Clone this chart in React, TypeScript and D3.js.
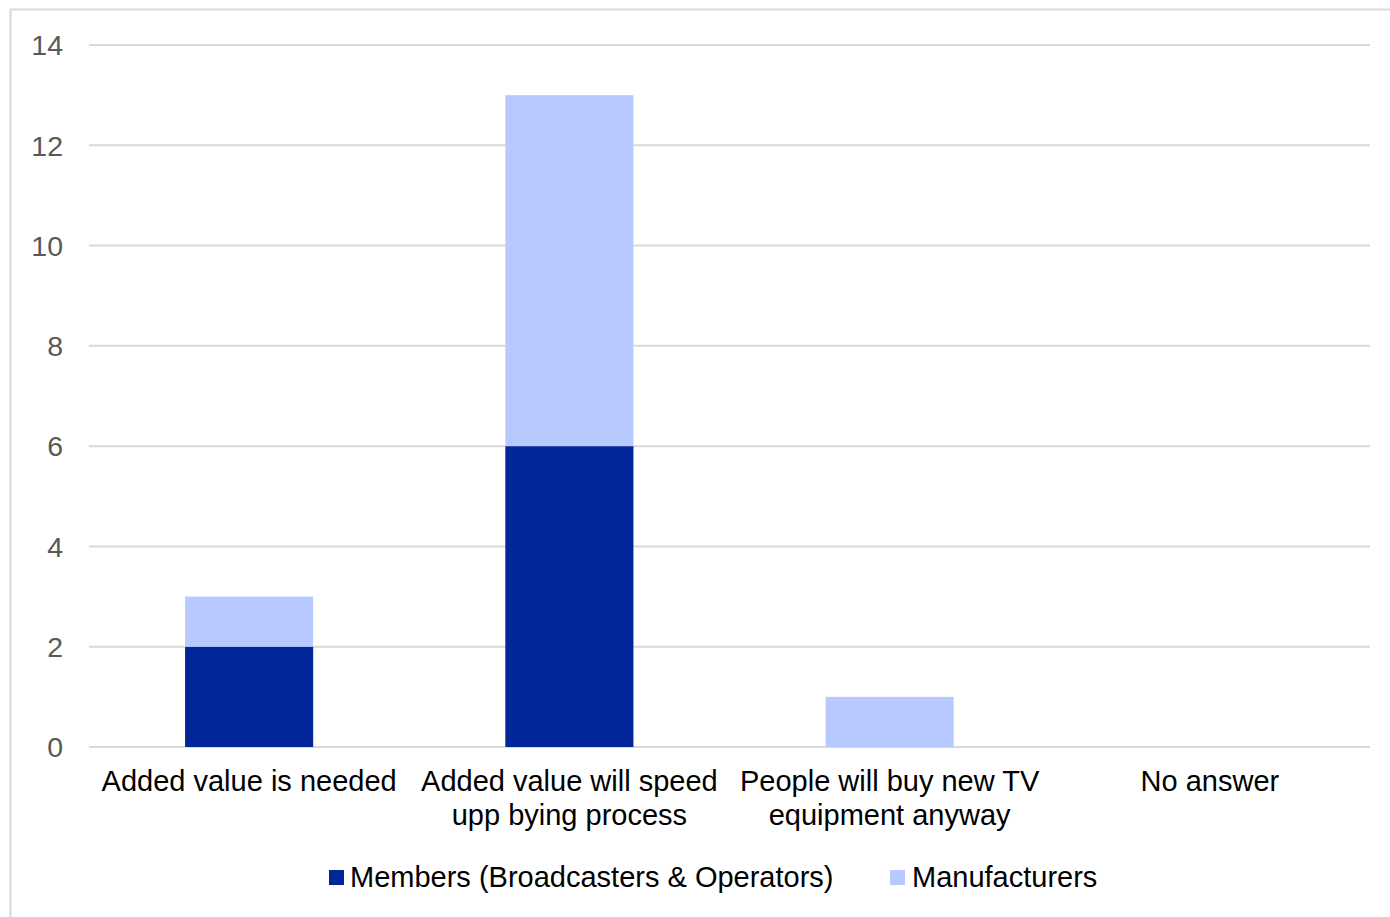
import React, { useEffect, useRef } from "react";
import * as d3 from "d3";

const categories = [
  ["Added value is needed"],
  ["Added value will speed", "upp bying process"],
  ["People will buy new TV", "equipment anyway"],
  ["No answer"],
];
const members = [2, 6, 0, 0];
const manufacturers = [1, 7, 1, 0];
const seriesNames = ["Members (Broadcasters & Operators)", "Manufacturers"];
const seriesColors = ["#002699", "#b8c9ff"];
const yTicks = [0, 2, 4, 6, 8, 10, 12, 14];

const W = 1390;
const H = 917;
const FONT = "'Liberation Sans', Arial, sans-serif";

export default function App() {
  const ref = useRef<SVGSVGElement>(null);
  useEffect(() => {
    const svg = d3.select(ref.current);
    svg.selectAll("*").remove();
    const left = 89, right = 1370, top = 45, bottom = 747;
    const x = d3.scaleBand<number>().domain(d3.range(categories.length)).range([left, right]).paddingInner(0.6).paddingOuter(0.3);
    const y = d3.scaleLinear().domain([0, 14]).range([bottom, top]);

    svg.append("rect").attr("x", 10.5).attr("y", 9.5).attr("width", W + 20).attr("height", H + 20)
      .attr("fill", "#fff").attr("stroke", "#d9d9d9").attr("stroke-width", 2);

    const g = svg.append("g");
    g.selectAll("line.grid").data(yTicks).enter().append("line")
      .attr("x1", left).attr("x2", right)
      .attr("y1", (d) => y(d)).attr("y2", (d) => y(d))
      .attr("stroke", "#d9d9d9").attr("stroke-width", 2);

    g.selectAll("text.tick").data(yTicks).enter().append("text")
      .attr("x", 63).attr("y", (d) => y(d)).attr("dy", "0.36em")
      .attr("text-anchor", "end").attr("font-family", FONT).attr("font-size", 28.5)
      .attr("fill", "#595959").text((d) => String(d));

    const stack = d3.stack<number>().keys(["0", "1"]).value((i, k) => (k === "0" ? members[i] : manufacturers[i]));
    const layers = stack(d3.range(categories.length));
    layers.forEach((layer, li) => {
      g.selectAll(null).data(layer).enter().append("rect")
        .attr("x", (d) => x(d.data)!)
        .attr("width", x.bandwidth())
        .attr("y", (d) => y(d[1]))
        .attr("height", (d) => y(d[0]) - y(d[1]))
        .attr("fill", seriesColors[li]);
    });

    categories.forEach((lines, i) => {
      const t = g.append("text").attr("text-anchor", "middle").attr("font-family", FONT)
        .attr("font-size", 29).attr("fill", "#000");
      lines.forEach((ln, j) => {
        t.append("tspan").attr("x", x(i)! + x.bandwidth() / 2).attr("y", 791 + j * 34).text(ln);
      });
    });

    const legendItems = [
      { sx: 329, tx: 350 },
      { sx: 890, tx: 912 },
    ];
    seriesNames.forEach((name, i) => {
      g.append("rect").attr("x", legendItems[i].sx).attr("y", 870).attr("width", 15).attr("height", 15).attr("fill", seriesColors[i]);
      g.append("text").attr("x", legendItems[i].tx).attr("y", 887).attr("font-family", FONT)
        .attr("font-size", 29).attr("fill", "#000").text(name);
    });
  }, []);
  return (
    <svg ref={ref} width={W} height={H} style={{ position: "absolute", left: 0, top: 0 }} />
  );
}
